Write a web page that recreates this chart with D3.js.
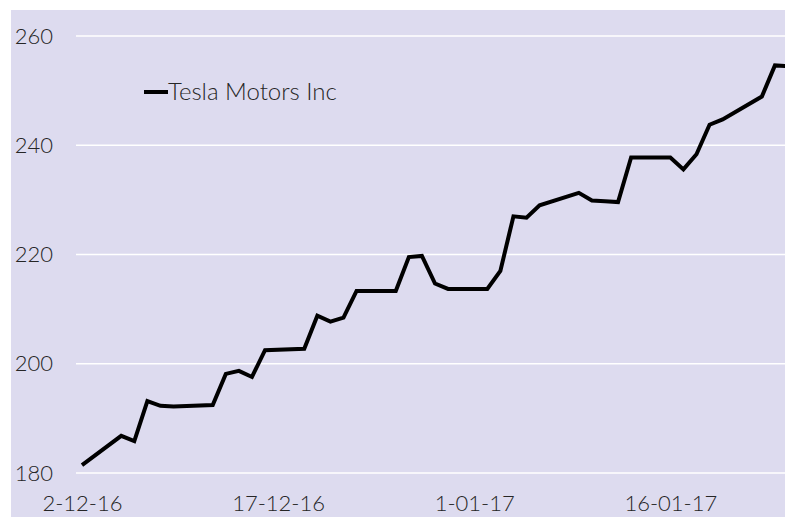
<!DOCTYPE html>
<html>
<head>
<meta charset="utf-8">
<script src="https://cdn.jsdelivr.net/npm/d3@7"></script>
<style>
  html, body { margin: 0; padding: 0; background: #fff; }
  svg { display: block; }
  text { font-family: Lato, Calibri, "Open Sans", sans-serif; font-weight: 300; fill: #262626; }
</style>
</head>
<body>
<script>
//// Data ////
const dates = [
  "2016-12-02", "2016-12-05", "2016-12-06", "2016-12-07", "2016-12-08", "2016-12-09",
  "2016-12-12", "2016-12-13", "2016-12-14", "2016-12-15", "2016-12-16",
  "2016-12-19", "2016-12-20", "2016-12-21", "2016-12-22", "2016-12-23",
  "2016-12-26", "2016-12-27", "2016-12-28", "2016-12-29", "2016-12-30",
  "2017-01-02", "2017-01-03", "2017-01-04", "2017-01-05", "2017-01-06",
  "2017-01-09", "2017-01-10", "2017-01-11", "2017-01-12", "2017-01-13",
  "2017-01-16", "2017-01-17", "2017-01-18", "2017-01-19", "2017-01-20",
  "2017-01-23", "2017-01-24", "2017-01-25"
]
const prices = [
  181.45, 186.8, 185.85, 193.15, 192.29, 192.18,
  192.43, 198.15, 198.69, 197.58, 202.49,
  202.73, 208.79, 207.7, 208.45, 213.34,
  213.34, 219.53, 219.74, 214.68, 213.69,
  213.69, 216.99, 226.99, 226.75, 229.01,
  231.28, 229.87, 229.73, 229.59, 237.75,
  237.75, 235.58, 238.36, 243.76, 244.73,
  248.92, 254.61, 254.47
]
const seriesName = "Tesla Motors Inc"
const yTicks = [180, 200, 220, 240, 260]
const xTicks = ["2016-12-02", "2016-12-17", "2017-01-01", "2017-01-16"]

//// Layout ////
const WIDTH = 785
const HEIGHT = 517
const bg = "#dddbef"

const parse = d3.timeParse("%Y-%m-%d")
const fmt = d3.timeFormat("%-d-%m-%y")
const data = dates.map((d, i) => ({ date: parse(d), value: prices[i] }))

const svg = d3.select("body").append("svg")
  .attr("width", WIDTH)
  .attr("height", HEIGHT)

// plot background
svg.append("rect")
  .attr("x", 11).attr("y", 10)
  .attr("width", WIDTH - 11).attr("height", HEIGHT - 10)
  .attr("fill", bg)

const x = d3.scaleTime()
  .domain([parse("2016-12-02"), parse("2017-01-25")])
  .range([82, 788])

const y = d3.scaleLinear()
  .domain([180, 260])
  .range([473, 36])

// gridlines
svg.append("g")
  .selectAll("line")
  .data(yTicks)
  .join("line")
  .attr("x1", 76).attr("x2", WIDTH)
  .attr("y1", d => y(d)).attr("y2", d => y(d))
  .attr("stroke", "#fff")
  .attr("stroke-width", 1.5)

// y axis labels
const yAxis = svg.append("g")
  .attr("transform", "translate(53,0)")
  .call(d3.axisLeft(y).tickValues(yTicks).tickSize(0).tickPadding(0))
yAxis.select(".domain").remove()
yAxis.selectAll("text")
  .attr("font-size", 22)
  .style("font-family", "Lato, Calibri, sans-serif")
  .attr("fill", "#262626")

// x axis labels
const xAxis = svg.append("g")
  .attr("transform", "translate(0,495)")
  .call(d3.axisBottom(x).tickValues(xTicks.map(parse)).tickFormat(fmt).tickSize(0).tickPadding(0))
xAxis.select(".domain").remove()
xAxis.selectAll("text")
  .attr("font-size", 22)
  .style("font-family", "Lato, Calibri, sans-serif")
  .attr("fill", "#262626")

// line
const line = d3.line()
  .x(d => x(d.date))
  .y(d => y(d.value))

svg.append("path")
  .datum(data)
  .attr("d", line)
  .attr("fill", "none")
  .attr("stroke", "#000")
  .attr("stroke-width", 4)
  .attr("stroke-linejoin", "miter")

// legend
const legend = svg.append("g").attr("transform", "translate(144,92)")
legend.append("line")
  .attr("x1", 0).attr("x2", 24)
  .attr("stroke", "#000").attr("stroke-width", 4)
legend.append("text")
  .attr("x", 24).attr("dy", "0.35em")
  .attr("font-size", 24)
  .text(seriesName)
</script>
</body>
</html>
